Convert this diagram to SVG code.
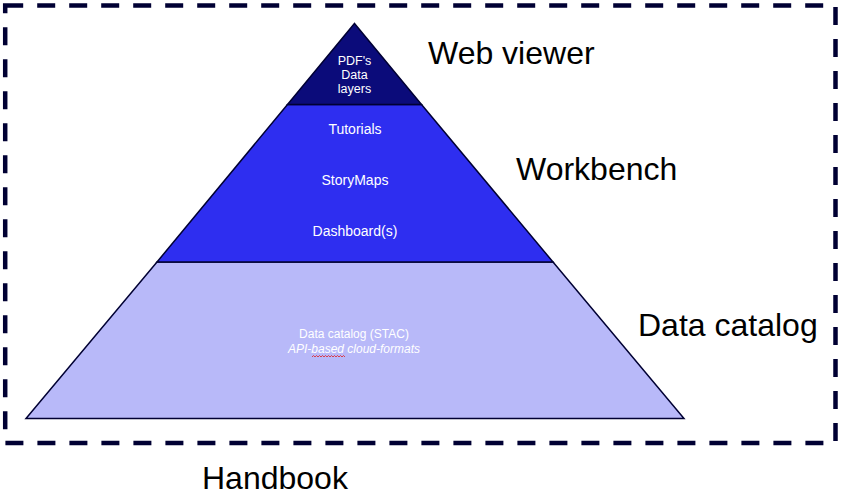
<svg xmlns="http://www.w3.org/2000/svg" width="841" height="498" viewBox="0 0 841 498">
  <style>
    .tier { stroke: #000033; stroke-width: 1.5; stroke-linejoin: miter; }
    .inner { font-family: "Liberation Sans", Arial, sans-serif; fill: #ffffff; text-anchor: middle; }
    .label { font-family: "Liberation Sans", Arial, sans-serif; font-size: 32px; fill: #000000; }
  </style>
  <rect width="841" height="498" fill="#ffffff"/>

  <!-- dashed frame -->
  <rect id="frame" x="5.2" y="5.4" width="830.3" height="437.6" fill="none" stroke="#000033" stroke-width="4.5" stroke-dasharray="18 14"/>

  <!-- base tier -->
  <g id="data-catalog-tier">
    <polygon class="tier" points="157,262 553,262 684,418.5 26,418.5" fill="#b8b9f9"/>
    <text class="inner" x="354" y="338" font-size="12">Data catalog (STAC)</text>
    <text class="inner" x="354" y="353" font-size="12" font-style="italic">API-based cloud-formats</text>
    <path d="M312,357 l1.5,-1.5 l1.5,1.5 l1.5,-1.5 l1.5,1.5 l1.5,-1.5 l1.5,1.5 l1.5,-1.5 l1.5,1.5 l1.5,-1.5 l1.5,1.5 l1.5,-1.5 l1.5,1.5 l1.5,-1.5 l1.5,1.5 l1.5,-1.5 l1.5,1.5 l1.5,-1.5 l1.5,1.5 l1.5,-1.5 l1.5,1.5 l1.5,-1.5 l1.5,1.5" fill="none" stroke="#e02020" stroke-width="0.8"/>
  </g>

  <!-- middle tier -->
  <g id="workbench-tier">
    <polygon class="tier" points="287.5,104.5 421.5,104.5 553,262 157,262" fill="#2e2ef0"/>
    <text class="inner" x="355" y="134" font-size="14">Tutorials</text>
    <text class="inner" x="355" y="185" font-size="14">StoryMaps</text>
    <text class="inner" x="355" y="235.5" font-size="14">Dashboard(s)</text>
  </g>

  <!-- top tier -->
  <g id="web-viewer-tier">
    <polygon class="tier" points="354.5,23.5 421.5,104.5 287.5,104.5" fill="#0b0b7a"/>
    <text class="inner" x="354.5" y="65" font-size="12.5">PDF's</text>
    <text class="inner" x="354.5" y="79" font-size="12.5">Data</text>
    <text class="inner" x="354.5" y="93" font-size="12.5">layers</text>
  </g>

  <!-- side labels -->
  <g id="labels">
    <text class="label" x="428" y="64">Web viewer</text>
    <text class="label" x="516" y="180">Workbench</text>
    <text class="label" x="638" y="336">Data catalog</text>
    <text class="label" x="202" y="489">Handbook</text>
  </g>
</svg>
